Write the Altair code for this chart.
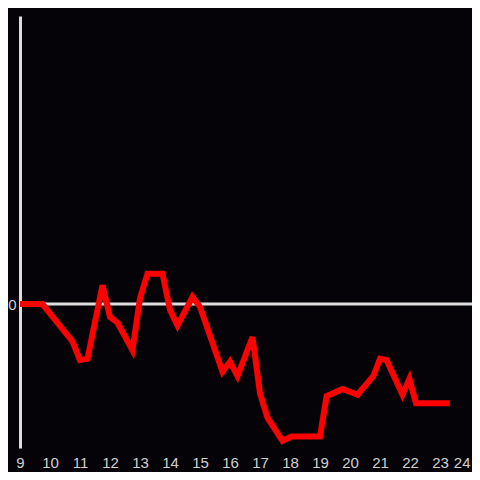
import altair as alt
import pandas as pd

hours = [9, 9.75, 10.75, 11, 11.25, 11.75, 12, 12.25, 12.75, 13, 13.25, 13.75, 14, 14.25,
         14.75, 15, 15.75, 16, 16.25, 16.75, 17, 17.25, 17.75, 18.05, 19, 19.22, 19.75,
         20.25, 20.78, 21, 21.22, 21.75, 21.98, 22.2, 23.33]
values = [0, 0, -0.26, -0.39, -0.38, 0.13, -0.09, -0.13, -0.32, 0.04, 0.21, 0.21, -0.04, -0.15,
          0.05, -0.02, -0.47, -0.40, -0.50, -0.23, -0.62, -0.79, -0.95, -0.92, -0.92, -0.64, -0.59,
          -0.63, -0.50, -0.38, -0.39, -0.63, -0.52, -0.69, -0.69]
x_ticks = list(range(9, 25))

df = pd.DataFrame({"h": hours, "v": values})
zero = pd.DataFrame({"v": [0]})

xs = alt.Scale(domain=[9, 9 + 452 / 30], nice=False, zero=False)
ys = alt.Scale(domain=[-1, 2], nice=False, zero=False)

FONT = "Liberation Sans"

rule = alt.Chart(zero).mark_rule(color="#dddddd", strokeWidth=3).encode(
    y=alt.Y("v:Q", scale=ys,
            axis=alt.Axis(values=[0], format="d", title=None, grid=False, ticks=False,
                          domain=True, domainColor="#dddddd", domainWidth=3,
                          labelColor="#d0d0d0", labelFontSize=15, labelPadding=4,
                          labelFont=FONT))
)

line = alt.Chart(df).mark_line(color="#ff0000", strokeWidth=6, strokeJoin="miter").encode(
    x=alt.X("h:Q", scale=xs,
            axis=alt.Axis(values=x_ticks, format="d", title=None, grid=False, ticks=False,
                          domain=False, labelColor="#d0d0d0", labelFontSize=15,
                          labelPadding=7, labelFont=FONT, labelFlush=False,
                          labelAlign=alt.expr("datum.value == 24 ? 'right' : 'center'"))),
    y=alt.Y("v:Q", scale=ys)
)

chart = alt.layer(rule, line).properties(
    width=452, height=432,
    background="#050308",
    padding={"left": 12, "top": 8, "right": 0, "bottom": 24},
    autosize=alt.AutoSizeParams(type="none"),
).configure_view(stroke=None)

chart.save("out.html", embed_options={"renderer": "svg", "actions": False})
